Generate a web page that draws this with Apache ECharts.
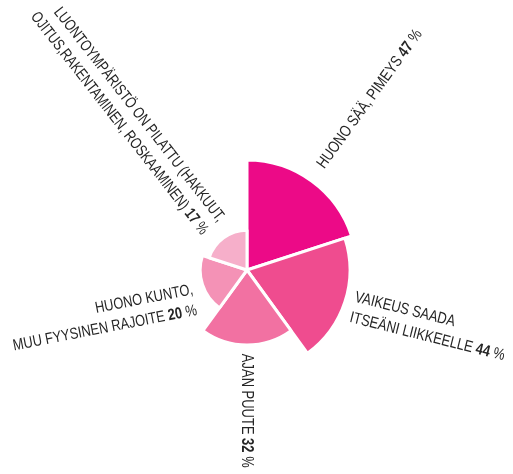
<!DOCTYPE html>
<html>
<head>
<meta charset="utf-8">
<script src="https://cdn.jsdelivr.net/npm/echarts@6/dist/echarts.min.js"></script>
<style>
html,body{margin:0;padding:0;background:#fff;}
#main{width:513px;height:474px;}
</style>
</head>
<body>
<div id="main"></div>
<script>
// ---- data ----
const categories = [
  'HUONO SÄÄ, PIMEYS',
  'VAIKEUS SAADA\nITSEÄNI LIIKKEELLE',
  'AJAN PUUTE',
  'HUONO KUNTO,\nMUU FYYSINEN RAJOITE',
  'LUONTOYMPÄRISTÖ ON PILATTU (HAKKUUT,\nOJITUS,RAKENTAMINEN, ROSKAAMINEN)'
];
const values = [47, 44, 32, 20, 17];
const colors = ['#EC0A87', '#EF4C8F', '#F271A2', '#F492B6', '#F6AFCA'];

// ---- layout (styles, not data) ----
const CX = 247, CY = 270, R = 110, BORDER = 3;
const labelStyle = [
  {angOff: -0.5, gap: 18.5, rot: 54,  align: 'left',  sx: 0.81},
  {angOff: 1.5,  gap: 10.5, rot: -14, align: 'left',  sx: 0.81},
  {angOff: 0.5,  gap: 10,   rot: -90, align: 'left',  sx: 0.81},
  {angOff: -12,  gap: 14,   rot: 11,  align: 'right', sx: 0.80},
  {angOff: -2,   gap: 16,   rot: -52, align: 'right', sx: 0.77}
];
const FONT = "'Liberation Sans', Arial, sans-serif";
const FS = 16;

const chart = echarts.init(document.getElementById('main'), null, {renderer: 'canvas'});
const maxV = Math.max.apply(null, values);
const step = 360 / values.length;

const graphics = values.map(function (v, i) {
  const st = labelStyle[i];
  const mid = step * i + step / 2 + st.angOff; // clockwise from 12 o'clock
  const rVis = (R - BORDER / 2) * v / maxV;
  const d = rVis + st.gap;
  const rad = mid * Math.PI / 180;
  const lines = categories[i].split('\n');
  const txt = lines.map(function (l, li) {
    return li === lines.length - 1
      ? '{n|' + l + ' }{b|' + v + '}{n| %}'
      : '{n|' + l + '}';
  }).join('\n');
  return {
    type: 'text',
    x: CX + d * Math.sin(rad),
    y: CY - d * Math.cos(rad),
    rotation: st.rot * Math.PI / 180,
    scaleX: st.sx,
    scaleY: 1,
    silent: true,
    style: {
      text: txt,
      align: st.align,
      verticalAlign: 'middle',
      fill: '#262626',
      font: FS + 'px ' + FONT,
      rich: {
        n: {fontSize: FS, fontFamily: FONT, fill: '#262626', lineHeight: 21},
        b: {fontSize: FS, fontFamily: FONT, fontWeight: 'bold', fill: '#262626', lineHeight: 21}
      }
    }
  };
});

chart.setOption({
  animation: false,
  backgroundColor: '#ffffff',
  series: [{
    type: 'pie',
    roseType: 'area',
    center: [CX, CY],
    radius: [0, R],
    startAngle: 90,
    clockwise: true,
    label: {show: false},
    labelLine: {show: false},
    itemStyle: {borderColor: '#ffffff', borderWidth: BORDER},
    data: values.map(function (v, i) {
      return {name: categories[i], value: v, itemStyle: {color: colors[i]}};
    })
  }],
  graphic: graphics
});
</script>
</body>
</html>
